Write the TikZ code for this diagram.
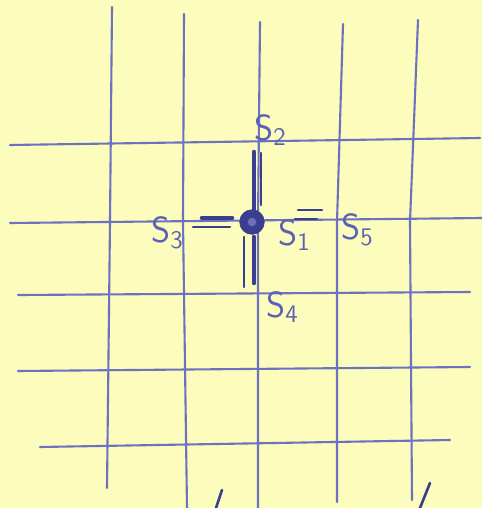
\documentclass[tikz,border=0pt]{standalone}
\usepackage{amsmath}
\usepackage{tikz}
\usetikzlibrary{calc}
\definecolor{paper}{RGB}{252,252,188}
\definecolor{inkgrid}{RGB}{108,114,192}
\definecolor{inkdark}{RGB}{58,62,142}
\definecolor{inklabel}{RGB}{92,98,178}
\tikzset{
  gridline/.style={draw=inkgrid, line width=1.2pt, line cap=round},
  heavy/.style={draw=inkdark, line width=2.6pt, line cap=round},
  light/.style={draw=inkdark, line width=1.5pt, line cap=round},
  lab/.style={text=inklabel, font=\huge\sffamily, inner sep=0pt}
}
\newcommand{\slab}[1]{S\raisebox{-0.35ex}{\Large#1}}

\begin{document}
\begin{tikzpicture}[x=0.02cm, y=-0.02cm]

  \fill[paper] (0,0) rectangle (482,508);
  \useasboundingbox (0,0) rectangle (482,508);

  % vertical lines
  \foreach \a/\b/\c/\yt/\yb in {112/110/107/7/488, 184/183/187/14/508,
                                 260/258/258/22/508, 343/337/337/24/502,
                                 418/410/412/20/500}
    \draw[gridline] (\a,\yt) -- (\b,222) -- (\c,\yb);

  % horizontal lines
  \foreach \xl/\yl/\xr/\yr in {10/145/480/138, 10/223/482/218,
                               18/295/470/292, 18/371/470/367,
                               40/447/450/440}
    \draw[gridline] (\xl,\yl) -- (\xr,\yr);

  % the cross at the centre
  \draw[heavy] (254,152) -- (254,210);
  \draw[light] (261,153) -- (261,205);
  \draw[heavy] (202,218) -- (232,218);
  \draw[light] (193,227) -- (230,227);
  \draw[light] (244,237) -- (244,287);
  \draw[heavy] (254,237) -- (254,283);
  \draw[light] (298,210) -- (322,210);
  \draw[light] (295,219) -- (317,219);

  \node[circle, fill=inkdark, draw=inkdark, minimum size=14pt, inner sep=0pt] (c) at (252,222) {};
  \fill[inkgrid] (c) circle (2.4pt);

  \node[lab] (s2) at (270,130) {\slab{2}};
  \node[lab] (s3) at (167,233) {\slab{3}};
  \node[lab] (s1) at (294,235) {\slab{1}};
  \node[lab] (s5) at (357,230) {\slab{5}};
  \node[lab] (s4) at (282,307) {\slab{4}};

  % strokes at the bottom edge
  \draw[light] (222,490) -- (216,508);
  \draw[light] (430,483) -- (420,508);

\end{tikzpicture}
\end{document}
